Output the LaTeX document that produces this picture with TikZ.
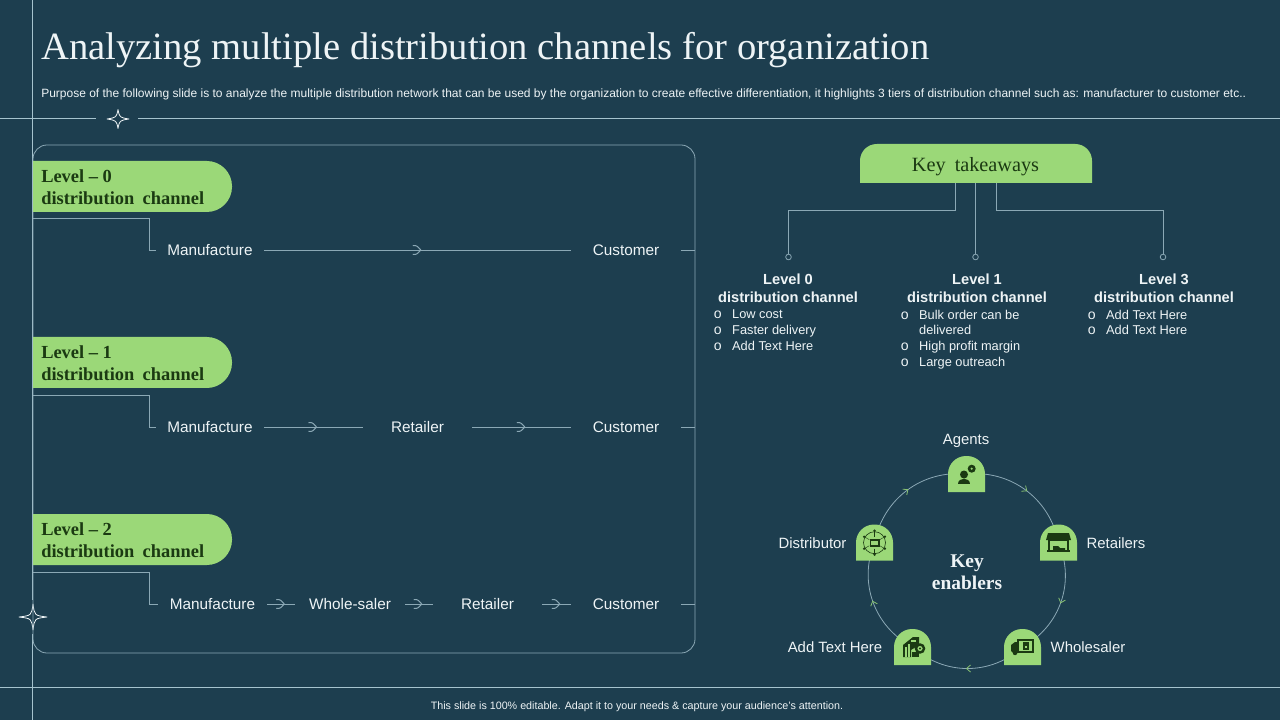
\documentclass[tikz,border=0pt]{standalone}
\usepackage{fontspec}
\setmainfont{Liberation Serif}
\setsansfont{Liberation Sans}
\usepackage{xcolor}
\usetikzlibrary{calc,decorations.markings}
\definecolor{slideBg}{HTML}{1D3E4F}
\definecolor{tabGreen}{HTML}{9BD878}
\definecolor{inkGreen}{HTML}{1B3A12}
\definecolor{ruleBlue}{HTML}{A6C3CE}
\definecolor{softText}{HTML}{EEF4F6}
\tikzstyle{tsRule} = [
    draw=ruleBlue,
    line width=0.25mm]
\tikzstyle{tsThin} = [
    draw=ruleBlue!80!slideBg,
    line width=0.2mm]
\tikzstyle{tsStep} = [
    text=softText,
    font=\sffamily\fontsize{10.9}{13}\selectfont,
    minimum height=0.6cm,
    inner sep=0pt]
\tikzstyle{tsStepBox} = [
    tsStep,
    minimum width=2.725cm]
\tikzstyle{tsStepFirst} = [
    tsStep,
    minimum width=2.7cm]
\tikzstyle{tsPill} = [
    text=inkGreen,
    font=\bfseries\fontsize{13.1}{15.6}\selectfont,
    align=left,
    anchor=west,
    inner sep=0pt]
\tikzstyle{tsHead} = [
    text=softText,
    font=\sffamily\bfseries\fontsize{10.4}{12.8}\selectfont,
    align=center,
    inner sep=0pt]
\tikzstyle{tsList} = [
    text=softText,
    font=\sffamily\fontsize{9.1}{11.34}\selectfont,
    align=left,
    anchor=north west,
    inner sep=0pt]
\tikzstyle{tsDot} = [
    circle,
    tsThin,
    minimum size=0.14cm,
    inner sep=0pt]
\tikzstyle{tsEnabler} = [
    text=softText,
    font=\sffamily\fontsize{10.6}{13}\selectfont,
    inner sep=0pt]
\tikzstyle{tsTab} = [
    minimum size=0pt,
    inner sep=0pt,
    outer sep=0pt]
\tikzset{
    tsChevron/.style={postaction={decorate,decoration={markings,mark=at position 0.5 with {
        \draw[ruleBlue!80!slideBg,line width=0.25mm] (-5,-4.5) .. controls (-1,-4.5) .. (3,0) .. controls (-1,4.5) .. (-5,4.5);}}}},
    tsArc/.style={tsThin,postaction={decorate,decoration={markings,mark=at position 0.5 with {
        \draw[tabGreen!85!slideBg,line width=0.2mm] (-3,-3.5) -- (1,0) -- (-3,3.5);}}}}
}
\newcommand{\sparkle}[4]{
    \draw[draw=softText,line width=0.2mm,line join=round,fill=slideBg] (#1+#3,#2) .. controls (#1+1.5,#2-1.5) .. (#1,#2-#4)
        .. controls (#1-1.5,#2-1.5) .. (#1-#3,#2) .. controls (#1-1.5,#2+1.5) .. (#1,#2+#4)
        .. controls (#1+1.5,#2+1.5) .. cycle;
}
\newcommand{\archtab}[2]{
    \fill[tabGreen] (#1-18.5,#2+18) [rounded corners=0.45cm] -- (#1-18.5,#2-18) -- (#1+18.5,#2-18) [sharp corners] -- (#1+18.5,#2+18) -- cycle;
}
\newcommand{\bul}[1]{\makebox[0.46cm][l]{\fontsize{10}{8}\selectfont o}#1}
\begin{document}
\begin{tikzpicture}[x=0.025cm,y=-0.025cm]
    \fill[slideBg] (0,0) rectangle (1280,720);
    \useasboundingbox (0,0) rectangle (1280,720);

    \draw[tsRule] (32.5,0) -- (32.5,600);
    \draw[tsRule] (32.5,634) -- (32.5,720);
    \draw[tsRule] (0,118.5) -- (96,118.5);
    \draw[tsRule] (138,118.5) -- (1280,118.5);
    \draw[tsRule] (0,687) -- (1280,687);
    \sparkle{118}{119}{11}{9.5}
    \sparkle{33}{617}{14}{13}

    \node[text=softText,anchor=west,inner sep=0pt,font=\fontsize{27.45}{30}\selectfont] (title) at (41,50.5)
        {Analyzing multiple distribution channels for organization};
    \node[text=softText,anchor=west,inner sep=0pt,font=\sffamily\fontsize{8.53}{10}\selectfont] (purpose) at (41,94)
        {Purpose of the following slide is to analyze the multiple distribution network that can be used by the organization to create effective differentiation, it highlights 3 tiers of distribution channel such as: manufacturer to customer etc..};
    \node[text=softText,inner sep=0pt,font=\sffamily\fontsize{7.63}{9}\selectfont] (footer) at (637,707)
        {This slide is 100\% editable. Adapt it to your needs \& capture your audience's attention.};

    \draw[tsThin,rounded corners=0.35cm] (33,145) rectangle (695,653);

    \foreach \ytop/\lvl in {161/0,337/1,514/2} {
        \fill[tabGreen] (33,\ytop) [rounded corners=0.63cm] -- (232,\ytop) -- (232,\ytop+51) [sharp corners] -- (33,\ytop+51) -- cycle;
        \node[tsPill] (pill\lvl) at (41,\ytop+26) {Level -- \lvl\\distribution\hspace{0.45em}channel};
    }

    \node[tsStepFirst] (maker0) at (210,250) {Manufacture};
    \node[tsStepBox] (cust0) at (626,250) {Customer};
    \coordinate (start0) at (33,218);
    \coordinate (end0) at (695,250);
    \draw[tsThin] (start0) -| (149,250) -- (maker0.west);
    \draw[tsThin,tsChevron] (maker0) -- (cust0);
    \draw[tsThin] (cust0) -- (end0);

    \node[tsStepFirst] (maker1) at (210,427) {Manufacture};
    \node[tsStepBox] (shop1) at (417.5,427) {Retailer};
    \node[tsStepBox] (cust1) at (626,427) {Customer};
    \coordinate (start1) at (33,395);
    \coordinate (end1) at (695,427);
    \draw[tsThin] (start1) -| (149,427) -- (maker1.west);
    \draw[tsThin,tsChevron] (maker1) -- (shop1);
    \draw[tsThin,tsChevron] (shop1) -- (cust1);
    \draw[tsThin] (cust1) -- (end1);

    \node[tsStepBox] (maker2) at (212.5,604) {Manufacture};
    \node[tsStepBox] (whole2) at (350,604) {Whole-saler};
    \node[tsStepBox] (shop2) at (487.5,604) {Retailer};
    \node[tsStepBox] (cust2) at (626,604) {Customer};
    \coordinate (start2) at (33,572);
    \coordinate (end2) at (695,604);
    \draw[tsThin] (start2) -| (149,604) -- (maker2.west);
    \draw[tsThin,tsChevron] (maker2) -- (whole2);
    \draw[tsThin,tsChevron] (whole2) -- (shop2);
    \draw[tsThin,tsChevron] (shop2) -- (cust2);
    \draw[tsThin] (cust2) -- (end2);

    \fill[tabGreen] (860,183) [rounded corners=0.42cm] -- (860,144) -- (1092,144) [sharp corners] -- (1092,183) -- cycle;
    \node[text=inkGreen,inner sep=0pt,minimum width=5.8cm,minimum height=0.975cm,font=\fontsize{14.4}{17}\selectfont] (takeaways) at (975.5,167) {Key\hspace{0.45em}takeaways};
    \node[tsDot] (dot0) at (788.5,257) {};
    \node[tsDot] (dot1) at (975.5,257) {};
    \node[tsDot] (dot3) at (1163,257) {};
    \draw[tsThin] (955,183) -- ++(0,27) -| (dot0);
    \draw[tsThin] (dot1 |- 183,183) -- (dot1);
    \draw[tsThin] (996,183) -- ++(0,27) -| (dot3);

    \node[tsHead] (head0) at (788,288.5) {Level 0\\distribution channel};
    \node[tsHead] (head1) at (977,288.5) {Level 1\\distribution channel};
    \node[tsHead] (head3) at (1164,288.5) {Level 3\\distribution channel};
    \node[tsList] (list0) at (713.5,309.5) {\bul{Low cost}\\\bul{Faster delivery}\\\bul{Add Text Here}};
    \node[tsList] (list1) at (900.5,309.5) {\bul{Bulk order can be}\\\hspace*{0.46cm}delivered\\\bul{High profit margin}\\\bul{Large outreach}};
    \node[tsList] (list3) at (1087.5,309.5) {\bul{Add Text Here}\\\bul{Add Text Here}};

    \node[tsTab] (agents) at (966.5,474) {};
    \node[tsTab] (retailers) at (1058.5,542.5) {};
    \node[tsTab] (wholesaler) at (1022.5,647) {};
    \node[tsTab] (addtext) at (912.5,647) {};
    \node[tsTab] (distributor) at (874.5,542.5) {};

    \draw[tsArc] (agents) to[bend left=42] (retailers);
    \draw[tsArc] (retailers) to[bend left=42] (wholesaler);
    \draw[tsArc] (wholesaler) to[bend left=42] (addtext);
    \draw[tsArc] (addtext) to[bend left=42] (distributor);
    \draw[tsArc] (distributor) to[bend left=42] (agents);

    \archtab{966.5}{474}
    \archtab{1058.5}{542.5}
    \archtab{1022.5}{647}
    \archtab{912.5}{647}
    \archtab{874.5}{542.5}

    % agents icon
    \fill[inkGreen] (964,474.5) circle (4);
    \fill[inkGreen] (958,483.5) .. controls (958,477) and (970,477) .. (970,483.5) -- cycle;
    \fill[inkGreen] (971.7,468.7) circle (4);
    \fill[tabGreen] (971.7,468.7) circle (1.2);
    % retailers icon
    \fill[inkGreen] (1048,533) -- (1069,533) -- (1071,540) -- (1046,540) -- cycle;
    \draw[inkGreen,line width=0.35mm] (1049,540) rectangle (1068,551);
    \fill[inkGreen] (1047,550) rectangle (1070,552);
    \fill[inkGreen] (1053,550) -- (1053,546) -- (1058,546) -- (1060,548) -- (1065,548) -- (1065,550) -- cycle;
    % distributor icon
    \draw[inkGreen,line width=0.15mm] (874.5,542.7) circle (11);
    \fill[inkGreen] (869.5,538.7) rectangle (879.5,547.2);
    \fill[tabGreen] (871,541) rectangle (878,544.5);
    \foreach \a in {30,90,150,210,270,330} {
        \fill[inkGreen] ($(874.5,542.7)+(\a:12)$) circle (1.3);
        \draw[inkGreen,line width=0.1mm] ($(874.5,542.7)+(\a:6)$) -- ($(874.5,542.7)+(\a:12)$);
    }
    % wholesaler icon
    \fill[inkGreen] (1011,651) -- (1011,645) -- (1015,642) -- (1018,642) -- (1018,653) -- (1013,653) -- cycle;
    \draw[inkGreen,line width=0.3mm] (1018,640) rectangle (1033,652);
    \fill[inkGreen] (1022.5,642) rectangle (1029,650);
    \fill[tabGreen] (1024.5,645.5) rectangle (1027,648);
    \fill[inkGreen] (1015,653) circle (2.2);
    % addtext icon
    \fill[inkGreen] (903,645) -- (913,637) -- (919,637) -- (919,645) -- (911,650) -- (911,657) -- (903,657) -- cycle;
    \fill[tabGreen] (905,647) rectangle (906.5,657);
    \fill[tabGreen] (908,644) rectangle (909.5,657);
    \fill[tabGreen] (911,640) rectangle (916,642);
    \fill[inkGreen] (912,652) rectangle (919,657);
    \draw[inkGreen,line width=0.6mm] (920,648.5) circle (4);
    \fill[inkGreen] (920,648.5) circle (1.2);

    \node[text=softText,align=center,inner sep=0pt,font=\bfseries\fontsize{13.8}{15.6}\selectfont] (enablers) at (967,572) {Key\\enablers};
    \node[tsEnabler] (lblagents) at (966,441) {Agents};
    \node[tsEnabler] (lbldistributor) at (812.5,543) {Distributor};
    \node[tsEnabler] (lblretailers) at (1116,543) {Retailers};
    \node[tsEnabler] (lbladdtext) at (835,647) {Add Text Here};
    \node[tsEnabler] (lblwholesaler) at (1088,647) {Wholesaler};
\end{tikzpicture}
\end{document}
